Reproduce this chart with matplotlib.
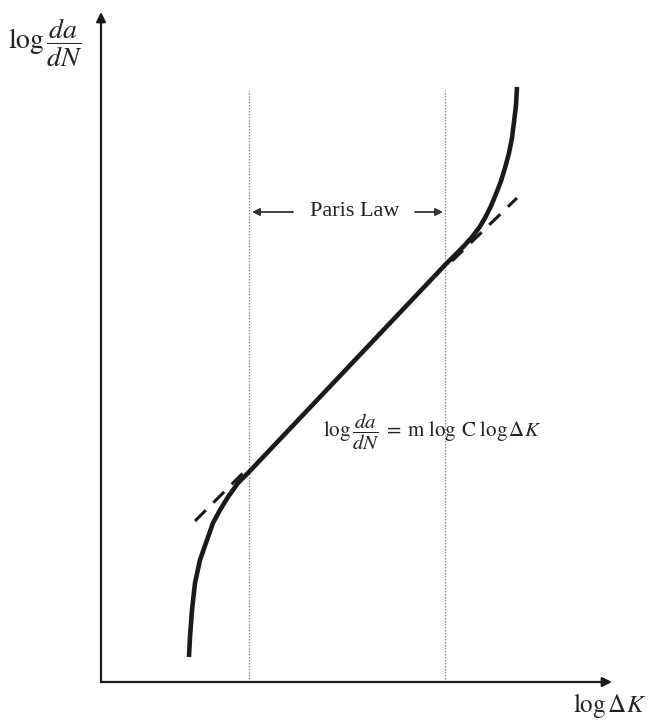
import matplotlib.pyplot as plt

plt.rcParams['mathtext.fontset'] = 'stix'

# crack growth curve (log dK, log da/dN), arbitrary units
curve_x = [0.88, 0.89, 0.91, 0.94, 0.99, 1.06, 1.12, 1.19, 1.27, 1.37, 1.47,
           3.44, 3.54, 3.63, 3.71, 3.78, 3.84, 3.90, 3.95, 4.00, 4.04, 4.08,
           4.11, 4.13, 4.15, 4.16]
curve_y = [0.25, 0.45, 0.72, 0.99, 1.22, 1.42, 1.59, 1.72, 1.85, 1.99, 2.09,
           4.17, 4.27, 4.36, 4.45, 4.54, 4.64, 4.76, 4.88, 5.01, 5.14, 5.29,
           5.44, 5.60, 5.77, 5.95]

# Paris law straight-line extension beyond both ends of the linear part
low_ext_x = [0.94, 1.46]
low_ext_y = [1.61, 2.13]
high_ext_x = [3.51, 4.16]
high_ext_y = [4.21, 4.84]

# region limits
region_x = [1.48, 3.44]
region_top = 5.92

axis_end_x = 5.11
axis_end_y = 6.70

fig = plt.figure(figsize=(6.48, 7.21), dpi=100)
ax = fig.add_axes([0, 0, 1, 1])
ax.set_xlim(-1.01, 5.47)
ax.set_ylim(-0.39, 6.82)
ax.axis('off')

# axes with arrows
arrow = dict(arrowstyle='-|>', lw=1.6, color='#1a1a1a', mutation_scale=14,
             shrinkA=0, shrinkB=0)
ax.annotate('', xy=(axis_end_x, 0), xytext=(0, 0), arrowprops=arrow)
ax.annotate('', xy=(0, axis_end_y), xytext=(0, 0), arrowprops=arrow)

# dotted region lines
for xv in region_x:
    ax.plot([xv, xv], [0, region_top], color='#8a8a8a', lw=0.9, ls=(0, (1.2, 1.2)))

# dashed Paris line ends and main curve
for ex, ey in [(low_ext_x, low_ext_y), (high_ext_x, high_ext_y)]:
    ax.plot(ex, ey, color='#1a1a1a', lw=2.2, ls=(0, (5, 3.5)))
ax.plot(curve_x, curve_y, color='#1a1a1a', lw=3.3, solid_joinstyle='round',
        solid_capstyle='butt')

# Paris Law label with arrows
mid = (region_x[0] + region_x[1]) / 2
ax.text(mid + 0.08, 4.70, 'Paris Law', ha='center', va='center',
        fontsize=16, family='Liberation Serif', color='#222222')
small = dict(arrowstyle='-|>', lw=1.3, color='#333333', mutation_scale=11,
             shrinkA=0, shrinkB=0)
ax.annotate('', xy=(region_x[0] + 0.03, 4.70), xytext=(1.92, 4.70), arrowprops=small)
ax.annotate('', xy=(region_x[1] - 0.02, 4.70), xytext=(3.14, 4.70), arrowprops=small)

# equation
ax.text(2.22, 2.50,
        r'$\log\dfrac{da}{dN}\;=\;\mathrm{m}\;\log\;\mathrm{C}\;\log\Delta K$',
        ha='left', va='center', fontsize=15, color='#222222')

# axis labels
ax.text(-0.93, 6.39, r'$\log\dfrac{da}{dN}$', ha='left', va='center', fontsize=20,
        color='#222222')
ax.text(5.45, -0.23, r'$\log\Delta K$', ha='right', va='center', fontsize=18,
        color='#222222')

fig.savefig('out.png', dpi=100)
